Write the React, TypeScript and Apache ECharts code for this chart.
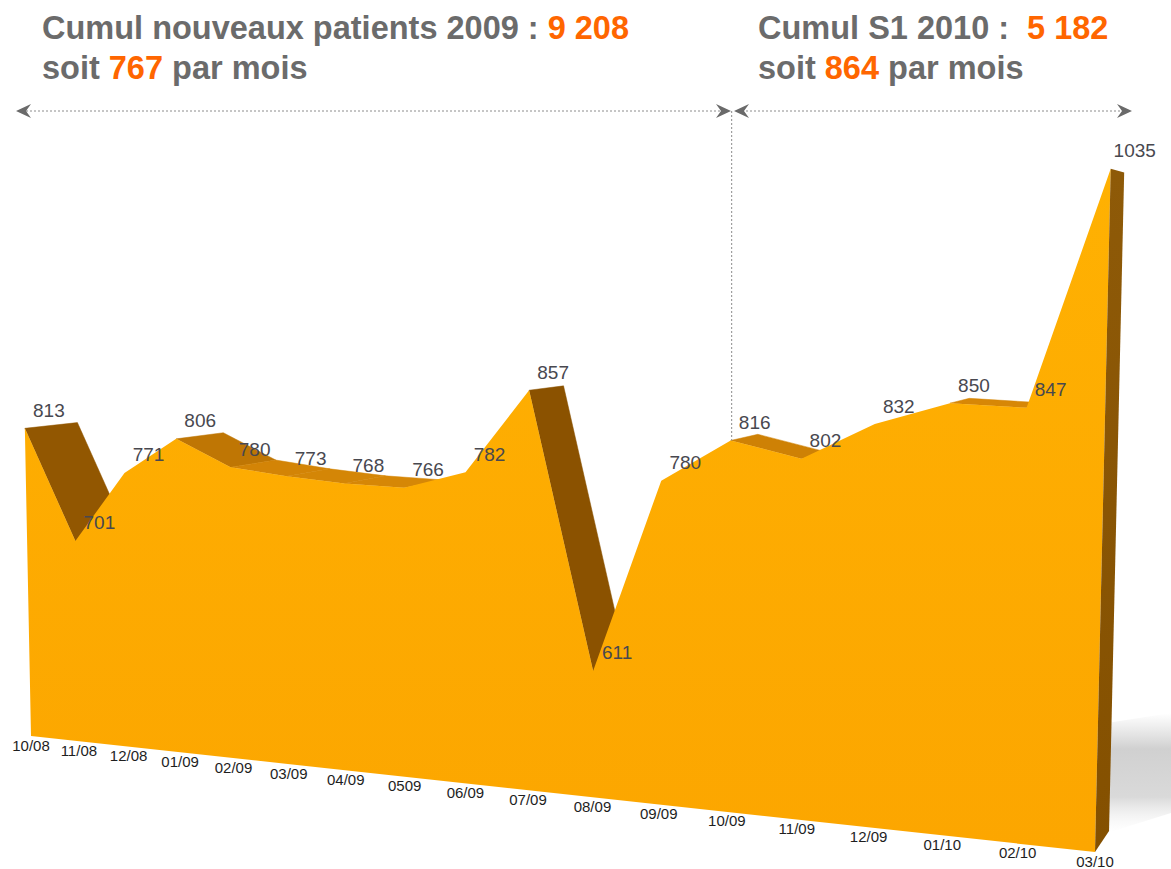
import React, { useEffect, useRef } from 'react';
import * as echarts from 'echarts';

// ---------- data ----------
const months = ['10/08', '11/08', '12/08', '01/09', '02/09', '03/09', '04/09', '0509', '06/09', '07/09', '08/09', '09/09', '10/09', '11/09', '12/09', '01/10', '02/10', '03/10'];
const patients = [813, 701, 771, 806, 780, 773, 768, 766, 782, 857, 611, 780, 816, 802, 832, 850, 847, 1035];
const title2009 = ['Cumul nouveaux patients 2009 : ', '9 208', 'soit ', '767', ' par mois'];
const titleS1 = ['Cumul S1 2010 :  ', '5 182', 'soit ', '864', ' par mois'];
const splitIndex = 12; // 10/09 : start of S1 2010 period

// ---------- layout / projection (presentation only) ----------
const Y_MIN = 500;
const Y_MAX = 1100;
const VP = [1485, 269];
const DEPTH = 0.036;
const FONT = '"Liberation Sans", Arial, sans-serif';

function warp(px: number, py: number, cs: any): number[] {
  const u = (px - cs.x) / cs.width;
  const g = ((cs.y + cs.height - py) / cs.height) * (Y_MAX - Y_MIN);
  const xb = 31 + 798 * u + 266 * u * u;
  const f = (xb - 31) / 1064;
  const yb = 736 + 116 * f;
  const s = 0.983 + 0.294 * f;
  const h = s * g;
  const lean = -0.02 + 0.043 * u;
  return [xb + lean * h, yb - h];
}
function back(p: number[]): number[] {
  return [p[0] + DEPTH * (VP[0] - p[0]), p[1] + DEPTH * (VP[1] - p[1])];
}
function pt(api: any, cs: any, i: number, v: number) {
  const c = api.coord([i, v]);
  return warp(c[0], c[1], cs);
}
function faceColor(a: number[], b: number[]) {
  const dx = b[0] - a[0];
  const dy = b[1] - a[1];
  const steep = Math.abs(dy) / Math.hypot(dx, dy);
  const f = Math.min(1, Math.pow(steep, 1.5));
  const L = [216, 136, 6];
  const D = [136, 80, 0];
  const c = L.map((l, k) => Math.round(l + (D[k] - l) * f));
  return `rgb(${c[0]},${c[1]},${c[2]})`;
}

function arrowHead(tx: number, ty: number, dir: number) {
  return {
    type: 'polygon',
    shape: {
      points: [
        [tx, ty],
        [tx - dir * 15, ty - 7],
        [tx - dir * 10, ty],
        [tx - dir * 15, ty + 7],
      ],
    },
    style: { fill: '#6a6a6a' },
  };
}

export default function App() {
  const ref = useRef<HTMLDivElement>(null);
  useEffect(() => {
    document.body.style.margin = '0';
    const chart = echarts.init(ref.current!, null, { renderer: 'svg' });
    const pairs = patients.map((v, i) => [i, v]);
    const last = patients.length - 1;

    const richBase = { fontSize: 32.5, fontWeight: 'bold', fontFamily: FONT, lineHeight: 40 };
    const rich = {
      g: { ...richBase, color: '#6B6B6B' },
      o: { ...richBase, color: '#FF6600' },
    };
    const mkTitle = (t: string[]) =>
      `{g|${t[0]}}{o|${t[1]}}\n{g|${t[2]}}{o|${t[3]}}{g|${t[4]}}`;

    const option: any = {
      animation: false,
      backgroundColor: '#ffffff',
      title: [
        { text: mkTitle(title2009), left: 42, top: 8, padding: 0, textStyle: { rich } },
        { text: mkTitle(titleS1), left: 758, top: 8, padding: 0, textStyle: { rich } },
      ],
      grid: { left: 0, top: 0, width: 1000, height: 500, show: false },
      xAxis: { type: 'value', min: 0, max: last, show: false },
      yAxis: { type: 'value', min: Y_MIN, max: Y_MAX, show: false },
      graphic: [
        {
          type: 'line',
          shape: { x1: 22, y1: 111, x2: 726, y2: 111 },
          style: { stroke: '#8c8c8c', lineWidth: 1, lineDash: [2, 2] },
        },
        {
          type: 'line',
          shape: { x1: 738, y1: 111, x2: 1126, y2: 111 },
          style: { stroke: '#8c8c8c', lineWidth: 1, lineDash: [2, 2] },
        },
        arrowHead(16, 111, -1),
        arrowHead(731, 111, 1),
        arrowHead(734, 111, -1),
        arrowHead(1132, 111, 1),
      ],
      series: [
        {
          type: 'custom',
          name: 'top faces',
          z: 2,
          data: pairs,
          renderItem: (params: any, api: any) => {
            const i = params.dataIndex;
            if (i >= last) return null;
            const cs = params.coordSys;
            const a = pt(api, cs, i, api.value(1));
            const b = pt(api, cs, i + 1, patients[i + 1]);
            const ba = back(a);
            const bb = back(b);
            const dx = b[0] - a[0];
            const dy = b[1] - a[1];
            const ex = ba[0] - a[0];
            const ey = ba[1] - a[1];
            if (dx * ey - dy * ex >= 0) return null;
            return {
              type: 'polygon',
              shape: { points: [a, b, bb, ba] },
              style: { fill: faceColor(a, b), stroke: faceColor(a, b), lineWidth: 0.5 },
            };
          },
        },
        {
          type: 'custom',
          name: 'front',
          z: 3,
          data: [[0, Y_MIN]],
          renderItem: (params: any, api: any) => {
            const cs = params.coordSys;
            const tops = patients.map((v, j) => pt(api, cs, j, v));
            const b0 = pt(api, cs, 0, Y_MIN);
            const b1 = pt(api, cs, last, Y_MIN);
            const tEnd = tops[last];
            const bt = back(tEnd);
            const bb = back(b1);
            return {
              type: 'group',
              children: [
                {
                  type: 'polygon',
                  z2: 0,
                  shape: {
                    points: [
                      [bb[0] - 2, bb[1] - 108],
                      [1171, bb[1] - 118],
                      [1171, bb[1] - 18],
                      [bb[0] - 2, bb[1] + 2],
                    ],
                  },
                  style: {
                    fill: new echarts.graphic.LinearGradient(0, 0, 0, 1, [
                      { offset: 0, color: 'rgba(205,205,205,0)' },
                      { offset: 0.3, color: 'rgba(200,200,200,0.85)' },
                      { offset: 0.7, color: 'rgba(205,205,205,0.75)' },
                      { offset: 1, color: 'rgba(240,240,240,0)' },
                    ]),
                  },
                },
                {
                  type: 'polygon',
                  z2: 1,
                  shape: { points: [b0, ...tops, b1] },
                  style: {
                    fill: new echarts.graphic.LinearGradient(0, 0, 0, 1, [
                      { offset: 0, color: '#FFB102' },
                      { offset: 1, color: '#FCA600' },
                    ]),
                  },
                },
                {
                  type: 'polygon',
                  z2: 2,
                  shape: { points: [tEnd, bt, bb, b1] },
                  style: {
                    fill: new echarts.graphic.LinearGradient(0, 0, 0, 1, [
                      { offset: 0, color: '#8E5A08' },
                      { offset: 1, color: '#845000' },
                    ]),
                  },
                },
              ],
            };
          },
        },
        {
          type: 'custom',
          name: 'labels',
          z: 5,
          data: pairs,
          renderItem: (params: any, api: any) => {
            const i = params.dataIndex;
            const cs = params.coordSys;
            const p = pt(api, cs, i, api.value(1));
            const b = pt(api, cs, i, Y_MIN);
            const children: any[] = [
              {
                type: 'text',
                x: p[0] + 24,
                y: p[1] - 18,
                style: {
                  text: String(patients[i]),
                  fill: '#48484f',
                  font: `19px ${FONT}`,
                  align: 'center',
                  verticalAlign: 'middle',
                },
              },
              {
                type: 'text',
                x: b[0],
                y: b[1] + 9,
                style: {
                  text: months[i],
                  fill: '#1e1e1e',
                  font: `15px ${FONT}`,
                  align: 'center',
                  verticalAlign: 'middle',
                },
              },
            ];
            if (i === splitIndex) {
              children.push({
                type: 'line',
                shape: { x1: p[0] + 1, y1: 111, x2: p[0] + 1, y2: p[1] },
                style: { stroke: '#8c8c8c', lineWidth: 1, lineDash: [2, 2] },
              });
            }
            return { type: 'group', children };
          },
        },
      ],
    };
    chart.setOption(option);
    return () => chart.dispose();
  }, []);
  return <div ref={ref} style={{ width: 1171, height: 869 }} />;
}
